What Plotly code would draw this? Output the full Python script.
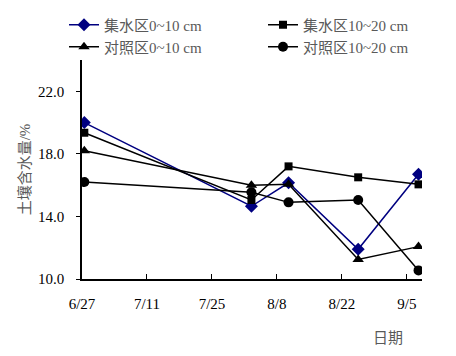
import pandas as pd
import plotly.graph_objects as go

dates = ["2011-06-27", "2011-08-02", "2011-08-10", "2011-08-25", "2011-09-07"]
jishui_0_10 = [20.0, 14.65, 16.15, 11.9, 16.7]
jishui_10_20 = [19.35, 15.05, 17.2, 16.5, 16.05]
duizhao_0_10 = [18.2, 16.0, 16.05, 11.25, 12.07]
duizhao_10_20 = [16.2, 15.55, 14.9, 15.05, 10.55]
names = ["集水区0~10 cm", "集水区10~20 cm", "对照区0~10 cm", "对照区10~20 cm"]
yticks = [10, 14, 18, 22]
xtick_start = "2011-06-27"

# Excel date axis "between tick marks": points sit mid-day
x = pd.to_datetime(dates) + pd.Timedelta(hours=12)

FONT = "'Liberation Serif', 'Noto Sans CJK SC', serif"
GRAY = "#595959"

# page body has an 8px default margin, so the figure is drawn 8px in from the corner
W, H = 440, 340
ML, MR, MT, MB = 74, 26, 52, 69

fig = go.Figure()
specs = [
    (jishui_0_10, names[0], "diamond", 10, "#000080", "legend"),
    (jishui_10_20, names[1], "square", 8, "#000000", "legend2"),
    (duizhao_0_10, names[2], "triangle-up", 10, "#000000", "legend3"),
    (duizhao_10_20, names[3], "circle", 10, "#000000", "legend4"),
]
for vals, nm, sym, sz, col, lg in specs:
    fig.add_trace(go.Scatter(
        x=x, y=vals, name=nm, mode="lines+markers",
        line=dict(color=col, width=1.5),
        marker=dict(symbol=sym, size=sz, color=col),
        legend=lg,
    ))

leg_common = dict(xref="container", yref="container", yanchor="middle", xanchor="left",
                  orientation="h",
                  font=dict(family=FONT, size=15, color=GRAY),
                  bgcolor="rgba(0,0,0,0)")
col1, col2 = 56 / W, 255 / W
row1, row2 = 1 - 17 / H, 1 - 39 / H
fig.update_layout(
    width=W, height=H,
    margin=dict(l=ML, r=MR, t=MT, b=MB, autoexpand=False),
    paper_bgcolor="white", plot_bgcolor="white",
    font=dict(family=FONT, size=15, color="#000000"),
    showlegend=True,
    legend=dict(x=col1, y=row1, **leg_common),
    legend2=dict(x=col2, y=row1, **leg_common),
    legend3=dict(x=col1, y=row2, **leg_common),
    legend4=dict(x=col2, y=row2, **leg_common),
    xaxis=dict(
        type="date",
        range=["2011-06-27", "2011-09-08 06:00"],
        tick0=xtick_start, dtick=14 * 86400000,
        tickformat="%-m/%-d",
        ticks="inside", ticklen=5, tickcolor="black",
        showline=True, linecolor="black", linewidth=1.5,
        showgrid=False, zeroline=False,
        ticklabelstandoff=10,
        tickfont=dict(family=FONT, size=15, color="#000000"),
    ),
    yaxis=dict(
        range=[10, 24], tickvals=yticks, tickformat=".1f",
        ticks="outside", ticklen=4, tickcolor="black",
        showline=True, linecolor="black", linewidth=1.5,
        showgrid=False, zeroline=False,
        ticklabelstandoff=9,
        tickfont=dict(family=FONT, size=15, color="#000000"),
        title=dict(text="土壤含水量/%", font=dict(family=FONT, size=15, color=GRAY), standoff=4),
    ),
)

pw, ph = W - ML - MR, H - MT - MB
fig.add_annotation(
    text="日期", xref="paper", yref="paper",
    x=(380 - ML) / pw, y=-(330 - (H - MB)) / ph,
    xanchor="center", yanchor="middle", showarrow=False,
    font=dict(family=FONT, size=15, color=GRAY),
)

fig.write_html("out.html")
